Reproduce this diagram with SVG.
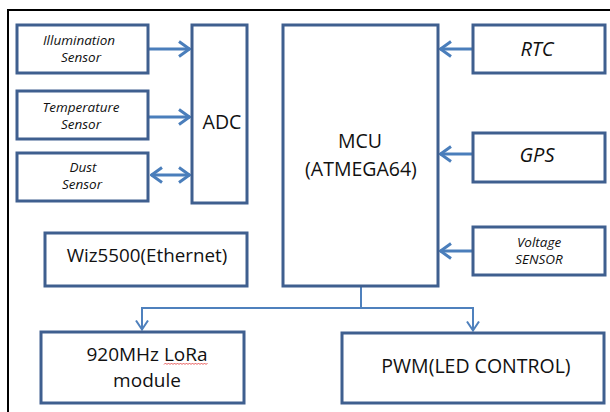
<svg xmlns="http://www.w3.org/2000/svg" width="610" height="412" viewBox="0 0 610 412">
<style>
.box{fill:#ffffff;stroke:#3f5f8f;stroke-width:3}
.frame{stroke:#000;stroke-width:2;fill:none}
.con{stroke:#4a7ebb;stroke-width:3;fill:none}
.con2{stroke:#4f81bd;stroke-width:2;fill:none}
.t{font-family:"Open Sans","Noto Sans",sans-serif;fill:#111;text-anchor:middle}
.it{font-style:italic}
</style>
<defs>
<marker id="ah" markerUnits="userSpaceOnUse" viewBox="0 0 14 18" markerWidth="14" markerHeight="18" refX="12.5" refY="9" orient="auto-start-reverse">
<path d="M1.5,1.5 L12,9 L1.5,16.5" fill="none" stroke="#4a7ebb" stroke-width="3"/>
</marker>
<marker id="ah2" markerUnits="userSpaceOnUse" viewBox="0 0 12 14" markerWidth="12" markerHeight="14" refX="10.5" refY="7" orient="auto">
<path d="M1,1 L10,7 L1,13" fill="none" stroke="#4f81bd" stroke-width="2"/>
</marker>
</defs>
<rect width="610" height="412" fill="#ffffff"/>
<path class="frame" d="M610,10 H8 V412"/>
<g id="connectors">
<line class="con" x1="149" y1="49" x2="190" y2="49" marker-end="url(#ah)"/>
<line class="con" x1="149" y1="117" x2="190" y2="117" marker-end="url(#ah)"/>
<line class="con" x1="151" y1="175" x2="190" y2="175" marker-start="url(#ah)" marker-end="url(#ah)"/>
<line class="con" x1="472" y1="49" x2="440" y2="49" marker-end="url(#ah)"/>
<line class="con" x1="472" y1="154" x2="440" y2="154" marker-end="url(#ah)"/>
<line class="con" x1="472" y1="251" x2="440" y2="251" marker-end="url(#ah)"/>
<path class="con2" d="M361,287 V308"/>
<path class="con2" d="M142,330 V308 H473 V331" marker-end="url(#ah2)"/>
<path class="con2" d="M142,308 V330" marker-end="url(#ah2)"/>
</g>
<g id="illumination">
<rect class="box" x="17" y="25" width="131" height="48"/>
<text class="t it" x="79" y="45" font-size="13.5">Illumination</text>
<text class="t it" x="81" y="62" font-size="13.5">Sensor</text>
</g>
<g id="temperature">
<rect class="box" x="17" y="91" width="131" height="48"/>
<text class="t it" x="81" y="112" font-size="13.5">Temperature</text>
<text class="t it" x="81" y="129" font-size="13.5">Sensor</text>
</g>
<g id="dust">
<rect class="box" x="17" y="153" width="131" height="48"/>
<text class="t it" x="83" y="172" font-size="13.5">Dust</text>
<text class="t it" x="82" y="189" font-size="13.5">Sensor</text>
</g>
<g id="adc">
<rect class="box" x="192" y="25" width="55" height="178"/>
<text class="t" x="222" y="129" font-size="19.5">ADC</text>
</g>
<g id="mcu">
<rect class="box" x="283" y="25" width="155" height="261"/>
<text class="t" x="360" y="148" font-size="19.5">MCU</text>
<text class="t" x="361" y="176" font-size="19.5">(ATMEGA64)</text>
</g>
<g id="rtc">
<rect class="box" x="473" y="25" width="132" height="48"/>
<text class="t it" x="537" y="56" font-size="20">RTC</text>
</g>
<g id="gps">
<rect class="box" x="473" y="133" width="132" height="49"/>
<text class="t it" x="537" y="162" font-size="20">GPS</text>
</g>
<g id="voltage">
<rect class="box" x="473" y="227" width="132" height="48"/>
<text class="t it" x="539" y="247" font-size="13.5">Voltage</text>
<text class="t it" x="539" y="264" font-size="13.5">SENSOR</text>
</g>
<g id="wiz5500">
<rect class="box" x="45" y="233" width="202" height="53"/>
<text class="t" x="147" y="262" font-size="18.8">Wiz5500(Ethernet)</text>
</g>
<g id="lora">
<rect class="box" x="41" y="332" width="203" height="71"/>
<text class="t" x="147" y="361" font-size="19">920MHz LoRa</text>
<text class="t" x="147" y="387" font-size="19">module</text>
<path d="M164,364.5 l1.5,-1.5 l1.5,1.5 l1.5,-1.5 l1.5,1.5 l1.5,-1.5 l1.5,1.5 l1.5,-1.5 l1.5,1.5 l1.5,-1.5 l1.5,1.5 l1.5,-1.5 l1.5,1.5 l1.5,-1.5 l1.5,1.5 l1.5,-1.5 l1.5,1.5 l1.5,-1.5 l1.5,1.5 l1.5,-1.5 l1.5,1.5 l1.5,-1.5 l1.5,1.5 l1.5,-1.5 l1.5,1.5 l1.5,-1.5 l1.5,1.5 l1.5,-1.5 l1.5,1.5 l1.5,-1.5" fill="none" stroke="#e03030" stroke-width="0.8"/>
</g>
<g id="pwm">
<rect class="box" x="342" y="333" width="262" height="70"/>
<text class="t" x="476" y="373" font-size="19.5">PWM(LED CONTROL)</text>
</g>
</svg>
